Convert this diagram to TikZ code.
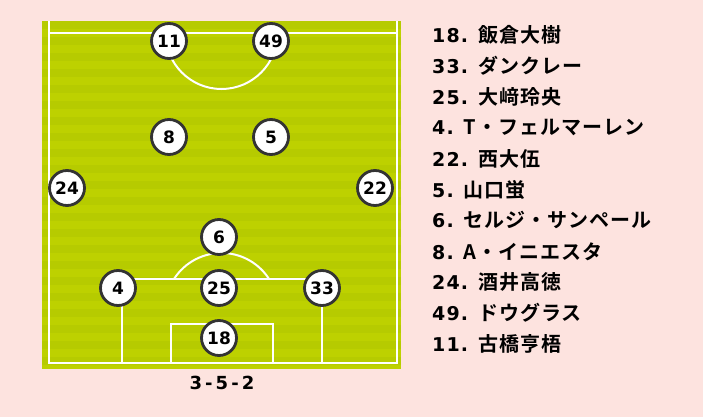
\documentclass[tikz,border=0pt]{standalone}
\usepackage{fontspec}
\newfontfamily\jpfont{Noto Sans CJK JP Bold}[LetterSpace=5]
\newfontfamily\numfont{DejaVu Sans Bold}[LetterSpace=6]
\newfontfamily\shirtfont{DejaVu Sans Bold}
\newfontfamily\formfont{DejaVu Sans Bold}[LetterSpace=17]
\definecolor{bgpink}{HTML}{FDE3DF}
\definecolor{pitchA}{HTML}{BDD100}
\definecolor{pitchB}{HTML}{B6CB00}
\definecolor{ringgray}{HTML}{333333}

\begin{document}
\begin{tikzpicture}
[
    x=1pt, y=-1pt,
    pline/.style={draw=white, line width=2pt},
    player/.style={circle, draw=ringgray, line width=2.8pt, fill=white,
        minimum size=35pt, inner sep=0pt, font=\shirtfont\fontsize{17}{17}\selectfont},
    entry/.style={anchor=west, inner sep=0pt},
]
\fill[bgpink] (0,0) rectangle (703,417);
\useasboundingbox (0,0) rectangle (703,417);
% pitch
\fill[pitchA] (42,21) rectangle (401,369);
\foreach \k in {0,...,21}
    \fill[pitchB] (42,21+16*\k) rectangle (401,29+16*\k);
\draw[pline] (49,21) -- (49,363) -- (397,363) -- (397,21);
\draw[pline] (49,33) -- (397,33);
\draw[pline] (165.5,33) arc[start angle=180, end angle=0, radius=56];
\draw[pline] (122,363) -- (122,279) -- (322,279) -- (322,363);
\draw[pline] (171,363) -- (171,324) -- (273,324) -- (273,363);
\draw[pline] (174,279) arc[start angle=212.6, end angle=327.4, radius=56.4];
% players
\node[player] (n11) at (169,41) {11};
\node[player] (n49) at (271,41) {49};
\node[player] (n8) at (169,137) {8};
\node[player] (n5) at (271,137) {5};
\node[player] (n24) at (67,188) {24};
\node[player] (n22) at (375,188) {22};
\node[player] (n6) at (219,237) {6};
\node[player] (n4) at (118,288) {4};
\node[player] (n25) at (219,288) {25};
\node[player] (n33) at (322,288) {33};
\node[player] (n18) at (219,338) {18};
\node[font=\formfont\fontsize{18}{18}\selectfont] (form) at (222,383) {3-5-2};
% names
\foreach \num/\name [count=\i from 0] in {18/飯倉大樹, 33/ダンクレー, 25/大﨑玲央,
    4/T・フェルマーレン, 22/西大伍, 5/山口蛍, 6/セルジ・サンペール,
    8/A・イニエスタ, 24/酒井高徳, 49/ドウグラス, 11/古橋亨梧}
    \node[entry] (p\i) at (432,35+30.9*\i)
        {{\numfont\fontsize{19}{19}\selectfont\num.}\hspace{10pt}{\jpfont\fontsize{20}{20}\selectfont\name}};
\end{tikzpicture}
\end{document}
